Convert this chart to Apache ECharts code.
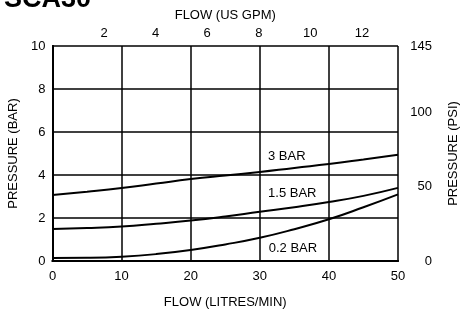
<!DOCTYPE html>
<html>
<head>
<meta charset="utf-8">
<script src="https://cdn.jsdelivr.net/npm/echarts@6/dist/echarts.min.js"></script>
<style>html,body{margin:0;padding:0;background:#fff}#c{width:462px;height:310px}</style>
</head>
<body>
<div id="c"></div>
<script>
const flowLpm = [0, 5, 10, 15, 20, 25, 30, 35, 40, 45, 50];
const bar3 = [3.07, 3.22, 3.39, 3.6, 3.81, 3.98, 4.14, 4.33, 4.51, 4.72, 4.94];
const bar15 = [1.49, 1.53, 1.6, 1.73, 1.88, 2.07, 2.29, 2.5, 2.74, 3.03, 3.4];
const bar02 = [0.14, 0.15, 0.2, 0.32, 0.51, 0.77, 1.08, 1.48, 1.94, 2.5, 3.1];
const seriesNames = ['3 BAR', '1.5 BAR', '0.2 BAR'];
const labelPos = [[33.9, 4.88], [34.7, 3.16], [34.8, 0.6]];
const title = 'SCA30';

const F = 'Liberation Sans, Arial, sans-serif';
const chart = echarts.init(document.getElementById('c'));
const mk = (vals, i) => ({
  type: 'line', name: seriesNames[i], xAxisIndex: 0, yAxisIndex: 0,
  data: flowLpm.map((x, k) => [x, vals[k]]),
  smooth: true, showSymbol: false, symbol: 'none',
  lineStyle: {color: '#000', width: 2}, z: 5,
  markPoint: {
    symbol: 'rect', symbolSize: 0,
    label: {show: true, position: 'inside', formatter: seriesNames[i], color: '#000', fontSize: 13, fontFamily: F},
    data: [{coord: labelPos[i]}]
  }
});
const axisLine = {show: true, lineStyle: {color: '#000', width: 2}};
chart.setOption({
  animation: false,
  grid: {left: 52.5, right: 64, top: 46, bottom: 49, containLabel: false, outerBoundsMode: 'none'},
  graphic: [{type: 'text', style: {text: title, x: 91, y: 13, align: 'right', verticalAlign: 'bottom', font: 'bold 27px ' + F, fill: '#000'}}],
  xAxis: [
    {type: 'value', position: 'bottom', min: 0, max: 50, interval: 10,
     axisLine, axisTick: {show: false},
     axisLabel: {color: '#000', fontSize: 13, fontFamily: F, margin: 9},
     splitLine: {show: true, lineStyle: {color: '#000', width: 1.5}},
     name: 'FLOW (LITRES/MIN)', nameLocation: 'middle', nameGap: 35,
     nameTextStyle: {color: '#000', fontSize: 13, fontFamily: F}},
    {type: 'value', position: 'top', min: 0, max: 13.4, interval: 2,
     axisLine, axisTick: {show: false},
     axisLabel: {color: '#000', fontSize: 13, fontFamily: F, margin: 6, showMinLabel: false, showMaxLabel: false},
     splitLine: {show: false},
     name: 'FLOW (US GPM)', nameLocation: 'middle', nameGap: 23,
     nameTextStyle: {color: '#000', fontSize: 13, fontFamily: F}}
  ],
  yAxis: [
    {type: 'value', position: 'left', min: 0, max: 10, interval: 2,
     axisLine, axisTick: {show: false},
     axisLabel: {color: '#000', fontSize: 13, fontFamily: F, margin: 7},
     splitLine: {show: true, lineStyle: {color: '#000', width: 1.5}},
     name: 'PRESSURE (BAR)', nameLocation: 'middle', nameGap: 30,
     nameTextStyle: {color: '#000', fontSize: 13, fontFamily: F}},
    {type: 'value', position: 'right', min: 0, max: 145, interval: 50,
     axisLine, axisTick: {show: false},
     axisLabel: {color: '#000', fontSize: 13, fontFamily: F, margin: 34, align: 'right'},
     splitLine: {show: false},
     name: 'PRESSURE (PSI)', nameLocation: 'middle', nameGap: 49,
     nameTextStyle: {color: '#000', fontSize: 13, fontFamily: F}}
  ],
  series: [mk(bar3, 0), mk(bar15, 1), mk(bar02, 2)]
});
</script>
</body>
</html>
